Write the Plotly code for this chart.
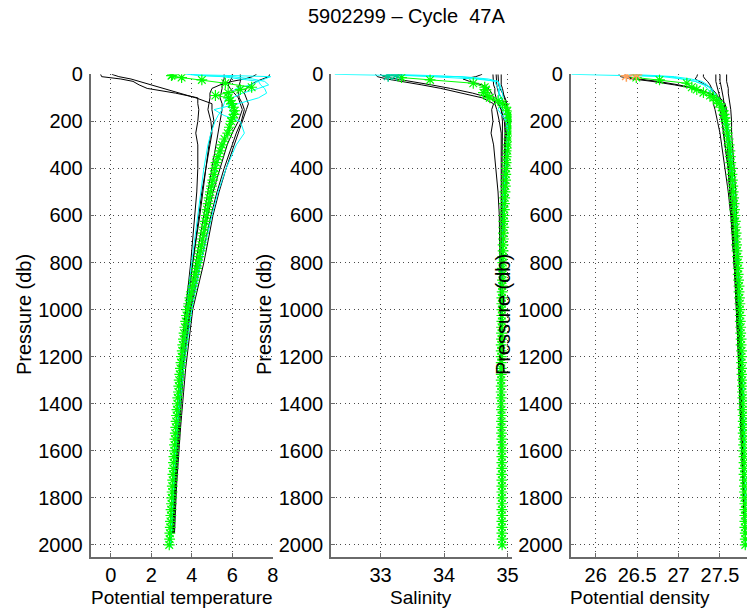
import plotly.graph_objects as go

FONT = "Liberation Sans, Arial, Helvetica, sans-serif"

# ---------------------------------------------------------------------------
# Current cycle (green asterisks); first two levels have flagged salinity
# ---------------------------------------------------------------------------
cur_pres = [2, 6, 14, 24, 38, 55, 65, 78, 90, 100, 112, 125, 140, 155, 170, 185, 200,
            225, 250, 275, 300, 325, 350, 375, 400, 425, 450, 475, 500, 525, 550, 575, 600,
            625, 650, 675, 700, 725, 750, 775, 800, 825, 850, 875, 900, 925, 950, 975, 1000,
            1025, 1050, 1075, 1100, 1125, 1150, 1175, 1200, 1225, 1250, 1275, 1300, 1325, 1350,
            1375, 1400, 1425, 1450, 1475, 1500, 1525, 1550, 1575, 1600, 1625, 1650, 1675, 1700,
            1725, 1750, 1775, 1800, 1825, 1850, 1875, 1900, 1925, 1950, 1975, 2000]

cur_temp = [3.05, 3.00, 3.50, 4.50, 5.66, 6.96, 6.40, 5.80, 5.17, 5.82, 5.90, 5.98, 6.05, 6.12, 6.10, 6.02, 5.95,
            5.86, 5.78, 5.62, 5.50, 5.40, 5.30, 5.20, 5.14, 5.10, 5.04, 4.98, 4.92, 4.86, 4.81, 4.76, 4.72,
            4.67, 4.62, 4.57, 4.53, 4.48, 4.42, 4.36, 4.30, 4.24, 4.17, 4.11, 4.05, 3.98, 3.91, 3.85, 3.78,
            3.74, 3.70, 3.66, 3.62, 3.59, 3.56, 3.53, 3.50, 3.47, 3.44, 3.41, 3.38, 3.36, 3.34,
            3.31, 3.29, 3.27, 3.25, 3.23, 3.21, 3.19, 3.17, 3.15, 3.14, 3.12, 3.10, 3.09, 3.07,
            3.06, 3.04, 3.03, 3.01, 3.00, 2.98, 2.97, 2.95, 2.94, 2.92, 2.91, 2.89]

cur_sal = [33.25, 33.12, 33.33, 33.78, 34.46, 34.64, 34.66, 34.62, 34.68, 34.72, 34.85, 34.92, 34.97, 35.00, 35.02, 35.03, 35.04,
           35.04, 35.03, 35.02, 35.01, 35.00, 34.99, 34.985, 34.98, 34.975, 34.97, 34.965, 34.96, 34.955, 34.95, 34.95, 34.945,
           34.94, 34.94, 34.935, 34.935, 34.93, 34.93, 34.925, 34.925, 34.92, 34.92, 34.92, 34.915, 34.915, 34.91, 34.91, 34.91,
           34.91, 34.91, 34.905, 34.905, 34.905, 34.90, 34.90, 34.90, 34.90, 34.90, 34.90, 34.90, 34.90, 34.90,
           34.90, 34.90, 34.905, 34.905, 34.905, 34.905, 34.905, 34.91, 34.91, 34.91, 34.91, 34.91, 34.91, 34.91,
           34.91, 34.91, 34.91, 34.91, 34.91, 34.91, 34.91, 34.91, 34.91, 34.91, 34.915, 34.915]

cur_dens = [26.49, 26.37, 26.49, 26.77, 27.10, 27.16, 27.22, 27.30, 27.38, 27.42, 27.46, 27.49, 27.52, 27.54, 27.55, 27.56, 27.57,
            27.58, 27.59, 27.60, 27.61, 27.62, 27.625, 27.63, 27.64, 27.645, 27.65, 27.655, 27.66, 27.665, 27.67, 27.675, 27.68,
            27.685, 27.69, 27.695, 27.70, 27.70, 27.705, 27.71, 27.715, 27.72, 27.72, 27.725, 27.73, 27.73, 27.735, 27.74, 27.74,
            27.745, 27.745, 27.75, 27.75, 27.755, 27.755, 27.76, 27.76, 27.76, 27.765, 27.765, 27.77, 27.77, 27.77,
            27.775, 27.775, 27.775, 27.78, 27.78, 27.78, 27.78, 27.785, 27.785, 27.785, 27.79, 27.79, 27.79, 27.79,
            27.795, 27.795, 27.795, 27.795, 27.80, 27.80, 27.80, 27.80, 27.80, 27.805, 27.805, 27.805]

n_flagged = 2  # salinity (and density) flagged at the two shallowest levels

# ---------------------------------------------------------------------------
# Historical reference profiles (black)
# ---------------------------------------------------------------------------
hist_pres = [0, 10, 20, 30, 45, 60, 80, 100, 125, 150, 200, 250, 300, 400, 500, 600, 800, 1000, 1250, 1500, 1750, 1950]

hist_temp = [
    [-0.5, -0.45, 0.5, 1.1, 1.4, 1.8, 3.2, 4.3, 4.3, 4.35, 4.3, 4.2, 4.3, 4.3, 4.25, 4.15, 3.95, 3.7, 3.45, 3.25, 3.1, 3.0],
    [0.05, 0.4, 1.0, 1.4, 1.9, 2.6, 3.3, 4.2, 5.0, 5.0, 5.1, 4.95, 4.85, 4.7, 4.5, 4.35, 4.05, 3.8, 3.5, 3.3, 3.15, 3.05],
    [7.85, 7.8, 7.5, 7.2, 6.9, 6.7, 6.6, 6.7, 6.8, 6.7, 6.5, 6.3, 6.1, 5.7, 5.35, 5.05, 4.6, 4.05, 3.7, 3.45, 3.25, 3.15],
    [6.4, 6.4, 6.4, 6.4, 6.35, 6.3, 6.3, 6.35, 6.5, 6.6, 6.45, 6.2, 6.0, 5.6, 5.25, 4.95, 4.45, 3.95, 3.6, 3.4, 3.2, 3.1],
    [5.6, 5.6, 5.6, 5.55, 5.5, 5.5, 5.45, 5.4, 5.5, 5.5, 5.4, 5.3, 5.2, 5.0, 4.8, 4.6, 4.2, 3.85, 3.5, 3.3, 3.15, 3.05],
    [7.2, 7.0, 6.6, 6.0, 5.4, 5.0, 4.9, 4.9, 4.85, 4.8, 4.95, 5.0, 4.9, 4.7, 4.55, 4.4, 4.05, 3.7, 3.4, 3.25, 3.1, 3.0],
    [6.0, 6.0, 5.95, 5.9, 5.8, 5.9, 6.1, 6.3, 6.4, 6.5, 6.3, 6.0, 5.75, 5.4, 5.05, 4.8, 4.35, 3.9, 3.55, 3.35, 3.2, 3.1],
]

hist_sal = [
    [32.92, 32.95, 33.1, 33.35, 33.65, 33.95, 34.3, 34.6, 34.78, 34.75, 34.77, 34.74, 34.78, 34.82, 34.85, 34.87, 34.88, 34.89, 34.9, 34.9, 34.91, 34.91],
    [33.0, 33.05, 33.25, 33.5, 33.8, 34.1, 34.45, 34.72, 34.85, 34.9, 34.95, 34.96, 34.95, 34.95, 34.93, 34.92, 34.91, 34.9, 34.9, 34.91, 34.91, 34.91],
    [34.9, 34.9, 34.9, 34.9, 34.9, 34.92, 34.93, 34.95, 34.98, 35.0, 35.02, 35.02, 35.01, 34.99, 34.97, 34.95, 34.93, 34.92, 34.91, 34.91, 34.91, 34.91],
    [34.82, 34.82, 34.82, 34.83, 34.83, 34.84, 34.86, 34.9, 34.95, 34.98, 34.98, 34.97, 34.96, 34.95, 34.93, 34.92, 34.91, 34.9, 34.9, 34.9, 34.91, 34.91],
    [34.77, 34.77, 34.77, 34.78, 34.78, 34.8, 34.8, 34.82, 34.86, 34.9, 34.92, 34.92, 34.92, 34.92, 34.91, 34.9, 34.9, 34.89, 34.9, 34.9, 34.91, 34.91],
    [34.6, 34.5, 34.3, 34.4, 34.6, 34.7, 34.75, 34.78, 34.8, 34.83, 34.87, 34.9, 34.9, 34.9, 34.9, 34.9, 34.89, 34.89, 34.9, 34.9, 34.91, 34.91],
    [34.85, 34.85, 34.85, 34.85, 34.86, 34.88, 34.92, 34.96, 34.99, 35.01, 35.0, 34.98, 34.97, 34.96, 34.94, 34.93, 34.92, 34.91, 34.9, 34.9, 34.91, 34.91],
]

hist_dens = [
    [26.28, 26.3, 26.45, 26.68, 26.95, 27.18, 27.38, 27.5, 27.56, 27.58, 27.58, 27.59, 27.6, 27.62, 27.64, 27.66, 27.68, 27.7, 27.73, 27.75, 27.78, 27.8],
    [26.35, 26.38, 26.52, 26.75, 27.0, 27.2, 27.35, 27.45, 27.52, 27.56, 27.56, 27.58, 27.59, 27.6, 27.62, 27.64, 27.67, 27.7, 27.73, 27.75, 27.78, 27.8],
    [27.3, 27.3, 27.32, 27.35, 27.38, 27.4, 27.41, 27.42, 27.42, 27.44, 27.47, 27.5, 27.52, 27.56, 27.6, 27.63, 27.67, 27.71, 27.75, 27.77, 27.79, 27.8],
    [27.45, 27.45, 27.45, 27.45, 27.46, 27.47, 27.48, 27.5, 27.5, 27.5, 27.52, 27.55, 27.56, 27.6, 27.62, 27.65, 27.68, 27.72, 27.75, 27.77, 27.79, 27.8],
    [27.58, 27.58, 27.58, 27.58, 27.59, 27.6, 27.6, 27.61, 27.62, 27.63, 27.64, 27.64, 27.65, 27.67, 27.69, 27.7, 27.72, 27.74, 27.77, 27.78, 27.8, 27.81],
    [27.23, 27.22, 27.2, 27.25, 27.32, 27.4, 27.45, 27.48, 27.5, 27.52, 27.53, 27.54, 27.56, 27.6, 27.62, 27.64, 27.67, 27.71, 27.74, 27.76, 27.78, 27.8],
    [27.5, 27.5, 27.5, 27.5, 27.51, 27.52, 27.53, 27.54, 27.55, 27.56, 27.58, 27.6, 27.62, 27.64, 27.66, 27.68, 27.7, 27.73, 27.76, 27.78, 27.8, 27.81],
]

# ---------------------------------------------------------------------------
# Previous cycles of the same float (cyan)
# ---------------------------------------------------------------------------
prev_pres = [0, 5, 10, 20, 30, 45, 60, 80, 100, 125, 150, 175, 200, 250, 300, 400, 500, 600, 800, 1000, 1250, 1500, 1750, 2010]

prev_temp = [
    [3.7, 5.8, 7.9, 7.6, 7.3, 7.4, 7.6, 7.7, 7.3, 6.3, 5.1, 5.6, 6.4, 6.6, 6.2, 5.7, 5.3, 5.0, 4.45, 4.0, 3.6, 3.3, 3.1, 2.95],
    [3.8, 4.3, 5.5, 6.5, 7.3, 6.9, 6.2, 5.9, 5.7, 5.6, 5.5, 5.3, 5.15, 4.95, 4.8, 4.6, 4.45, 4.3, 4.0, 3.75, 3.45, 3.25, 3.1, 2.97],
    [4.0, 4.5, 6.0, 7.0, 7.6, 7.8, 7.3, 6.5, 6.0, 5.8, 5.9, 6.0, 5.95, 5.75, 5.55, 5.2, 4.95, 4.75, 4.35, 3.85, 3.5, 3.25, 3.08, 2.95],
]

prev_sal = [
    [32.28, 33.3, 34.3, 34.7, 34.85, 34.88, 34.9, 34.92, 34.93, 34.9, 34.85, 34.92, 34.98, 35.02, 35.0, 34.97, 34.95, 34.94, 34.92, 34.91, 34.9, 34.9, 34.91, 34.91],
    [33.1, 33.5, 33.9, 34.5, 34.85, 34.86, 34.88, 34.86, 34.86, 34.88, 34.92, 34.96, 34.98, 35.0, 34.99, 34.96, 34.94, 34.93, 34.91, 34.9, 34.9, 34.9, 34.91, 34.91],
    [33.3, 33.7, 34.2, 34.6, 34.8, 34.82, 34.85, 34.87, 34.9, 34.93, 34.97, 35.0, 35.02, 35.03, 35.01, 34.98, 34.96, 34.94, 34.92, 34.91, 34.9, 34.9, 34.91, 34.91],
]

prev_dens = [
    [25.71, 26.3, 26.9, 27.05, 27.2, 27.3, 27.35, 27.38, 27.42, 27.5, 27.56, 27.54, 27.55, 27.58, 27.6, 27.64, 27.66, 27.68, 27.71, 27.74, 27.77, 27.79, 27.8, 27.81],
    [26.4, 26.55, 26.8, 27.05, 27.2, 27.32, 27.4, 27.44, 27.47, 27.5, 27.54, 27.57, 27.59, 27.61, 27.63, 27.65, 27.67, 27.69, 27.72, 27.75, 27.77, 27.79, 27.8, 27.81],
    [26.45, 26.65, 26.95, 27.15, 27.28, 27.35, 27.38, 27.42, 27.48, 27.52, 27.54, 27.55, 27.56, 27.58, 27.6, 27.63, 27.66, 27.68, 27.71, 27.74, 27.77, 27.79, 27.8, 27.81],
]

# Axis ticks
pres_ticks = [0, 200, 400, 600, 800, 1000, 1200, 1400, 1600, 1800, 2000]
temp_ticks = [0, 2, 4, 6, 8]
sal_ticks = [33, 34, 35]
dens_ticks = [26, 26.5, 27, 27.5]
dens_ticktext = ["26", "26.5", "27", "27.5"]

title_text = "5902299 \u2013 Cycle \u00a047A"
x_titles = ["Potential temperature", "Salinity", "Potential density"]
y_title = "Pressure (db)"

# ---------------------------------------------------------------------------
W, H = 747, 611
fig = go.Figure()

panels = [
    ("x", "y", hist_temp, prev_temp, cur_temp, False),
    ("x2", "y2", hist_sal, prev_sal, cur_sal, True),
    ("x3", "y3", hist_dens, prev_dens, cur_dens, True),
]

GREEN = "#00ff00"
for xa, ya, hist, prev, cur, flagged in panels:
    for prof in hist:
        fig.add_trace(go.Scatter(x=prof, y=hist_pres, mode="lines", xaxis=xa, yaxis=ya,
                                 line=dict(color="black", width=1), hoverinfo="skip"))
    for prof in prev:
        fig.add_trace(go.Scatter(x=prof, y=prev_pres, mode="lines", xaxis=xa, yaxis=ya,
                                 line=dict(color="#00ffff", width=1), hoverinfo="skip"))
    start = n_flagged if flagged else 0
    fig.add_trace(go.Scatter(x=cur[start:], y=cur_pres[start:], mode="lines+markers",
                             xaxis=xa, yaxis=ya,
                             line=dict(color=GREEN, width=1),
                             marker=dict(symbol="asterisk-open", size=9,
                                         line=dict(color=GREEN, width=1.2))))
    if flagged:
        fig.add_trace(go.Scatter(x=cur[:n_flagged], y=cur_pres[:n_flagged], mode="markers",
                                 xaxis=xa, yaxis=ya,
                                 marker=dict(symbol="asterisk-open", size=10,
                                             line=dict(color="#ff0000", width=1.5))))

AX_COLOR = "#6a6a6a"
common = dict(showline=True, linecolor=AX_COLOR, linewidth=1.5, mirror=False,
              ticks="inside", ticklen=4, tickwidth=1, tickcolor=AX_COLOR,
              showgrid=True, gridcolor="#4a4a4a", gridwidth=1, griddash="1px,3.5px",
              zeroline=False, automargin=False,
              tickfont=dict(family=FONT, size=20, color="black"))

y_dom = [1 - 556.7 / H, 1 - 74.3 / H]
x_doms = [[90.5 / W, 272.7 / W], [331 / W, 511.5 / W], [570.5 / W, 1.0]]
x_ranges = [[-1, 8], [32.22, 35.062], [25.696, 27.826]]
x_tickvals = [temp_ticks, sal_ticks, dens_ticks]
x_ticktexts = [[str(v) for v in temp_ticks], [str(v) for v in sal_ticks], dens_ticktext]

layout = dict(width=W, height=H,
              margin=dict(l=0, r=0, t=0, b=0, pad=0, autoexpand=False),
              paper_bgcolor="white", plot_bgcolor="white", showlegend=False)
for i in range(3):
    sx = "" if i == 0 else str(i + 1)
    layout["xaxis" + sx] = dict(common, domain=x_doms[i], range=x_ranges[i],
                                tickvals=x_tickvals[i], ticktext=x_ticktexts[i],
                                anchor="y" + sx, ticklabelstandoff=0)
    layout["yaxis" + sx] = dict(common, domain=y_dom, range=[2050, 0],
                                tickvals=pres_ticks, anchor="x" + sx, ticklabelstandoff=2)
fig.update_layout(**layout)

ann = []
ann.append(dict(text=title_text, x=406 / W, y=1 - 16 / H, size=20))
for cx, txt in zip([182, 421, 640], x_titles):
    ann.append(dict(text=txt, x=cx / W, y=1 - 597 / H, size=19))
for cx in [24, 264, 503]:
    ann.append(dict(text=y_title, x=cx / W, y=1 - 315 / H, textangle=-90, size=20))
for a in ann:
    fs = a.pop("size")
    a.update(xref="paper", yref="paper", xanchor="center", yanchor="middle",
             showarrow=False, font=dict(family=FONT, size=fs, color="black"))
fig.update_layout(annotations=ann)

fig.write_html("out.html")
